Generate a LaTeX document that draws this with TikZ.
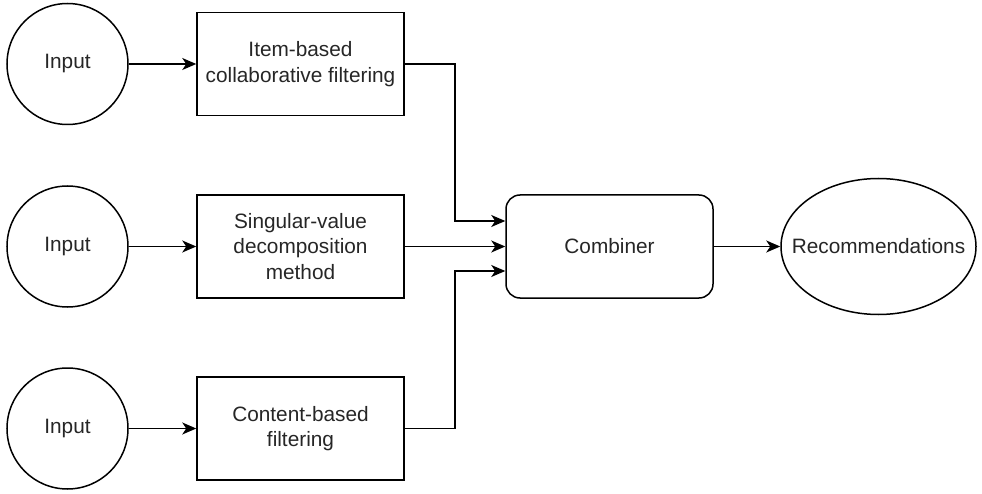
\documentclass[tikz,border=0pt]{standalone}
\usepackage{fontspec}
\setmainfont{Liberation Sans}
\usetikzlibrary{arrows.meta,shapes.geometric}

\begin{document}
\begin{tikzpicture}[x=1pt,y=-1pt,
  every node/.style={font=\fontsize{20.8}{25.5}\selectfont, align=center, text=black!85},
  inputnode/.style={circle, draw, line width=1.5pt, minimum size=121pt, inner sep=0pt},
  stagebox/.style={rectangle, draw, line width=1.5pt, minimum width=207pt, minimum height=103pt, inner sep=2pt},
  combinebox/.style={rectangle, rounded corners=14pt, draw, line width=1.5pt, minimum width=207pt, minimum height=103pt},
  outnode/.style={ellipse, draw, line width=1.5pt, minimum width=195pt, minimum height=136pt, inner xsep=-25pt, inner ysep=0pt},
  flow/.style={draw, line width=1.5pt, -{Stealth[length=14pt,width=12pt,inset=4pt]}}
]
  \useasboundingbox (0,0) rectangle (982,494);

  % inputs
  \node[inputnode] (in1) at (67.5,64) {Input};
  \node[inputnode] (in2) at (67.5,246.5) {Input};
  \node[inputnode] (in3) at (67.5,428.5) {Input};

  % recommender stages
  \node[stagebox] (s1) at (300.5,64) {Item-based\\collaborative filtering};
  \node[stagebox] (s2) at (300.5,246.5) {Singular-value\\decomposition\\method};
  \node[stagebox] (s3) at (300.5,428.5) {Content-based\\filtering};

  % combiner and output
  \node[combinebox] (comb) at (609.5,246.5) {Combiner};
  \node[outnode] (rec) at (878.5,246.5) {Recommendations};

  \coordinate (j1) at (455,64);
  \coordinate (j3) at (455,428.5);
  \coordinate (t1) at (comb.west |- 0,221);
  \coordinate (t3) at (comb.west |- 0,271);

  \draw[flow] (in1) -- (s1);
  \draw[flow] (in2) -- (s2);
  \draw[flow] (in3) -- (s3);

  \draw[flow] (s1.east) -- (j1) |- (t1);
  \draw[flow] (s2.east) -- (comb.west);
  \draw[flow] (s3.east) -- (j3) |- (t3);

  \draw[flow] (comb) -- (rec);
\end{tikzpicture}
\end{document}
